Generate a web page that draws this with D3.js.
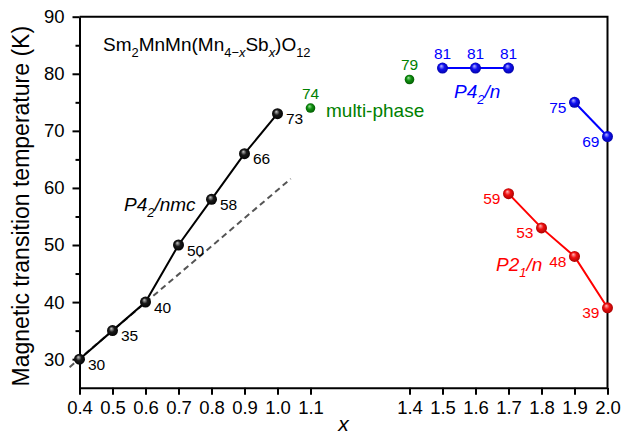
<!DOCTYPE html>
<html><head><meta charset="utf-8">
<script src="https://cdn.jsdelivr.net/npm/d3@7"></script>
<style>body{margin:0;background:#fff} text{font-family:"Liberation Sans",Arial,sans-serif}</style>
</head><body><svg id="c" width="621" height="434"></svg>
<script>
// ---- data ----
const xTicks=[0.4,0.5,0.6,0.7,0.8,0.9,1.0,1.1,1.4,1.5,1.6,1.7,1.8,1.9,2.0];
const yTicks=[30,40,50,60,70,80,90];
const yMinor=[35,45,55,65,75,85];
const blackX=[0.4,0.5,0.6,0.7,0.8,0.9,1.0];
const blackT=[30,35,40,50,58,66,73];
const greenX=[1.1,1.4];
const greenT=[74,79];
const blueAX=[1.5,1.6,1.7];
const blueAT=[81,81,81];
const blueBX=[1.9,2.0];
const blueBT=[75,69];
const redX=[1.7,1.8,1.9,2.0];
const redT=[59,53,48,39];
const fitX=[0.37,1.04];
const fitT=[28.6,61.6];

// ---- chart ----
const svg=d3.select("#c");
const x=d3.scaleLinear().domain([0.4,2.0]).range([79.5,607.5]);
const y=d3.scaleLinear().domain([25,90]).range([387.7,16.7]);
const zip=(a,b)=>a.map((v,i)=>[v,b[i]]);

const defs=svg.append("defs");
function grad(id,light,mid,dark){
  const g=defs.append("radialGradient").attr("id",id).attr("cx","50%").attr("cy","50%").attr("r","55%").attr("fx","38%").attr("fy","30%");
  g.append("stop").attr("offset","0%").attr("stop-color",light);
  g.append("stop").attr("offset","45%").attr("stop-color",mid);
  g.append("stop").attr("offset","100%").attr("stop-color",dark);
}
grad("gk","#c8c8c8","#1a1a1a","#000000");
grad("gg","#9be09b","#119111","#005500");
grad("gb","#b8b8ff","#1010f0","#0000a0");
grad("gr","#ffb8b8","#f01010","#a00000");

// axes
const xAxis=d3.axisBottom(x).tickValues(xTicks).tickFormat(d3.format(".1f")).tickSize(7).tickSizeOuter(0).tickPadding(6);
const yAxis=d3.axisLeft(y).tickValues(yTicks).tickSize(7).tickSizeOuter(0).tickPadding(8);
const gx=svg.append("g").attr("transform","translate(0,"+y(25)+")").call(xAxis);
const gy=svg.append("g").attr("transform","translate("+x(0.4)+",0)").call(yAxis);
svg.append("g").attr("transform","translate("+x(0.4)+",0)").call(d3.axisLeft(y).tickValues(yMinor).tickSize(4).tickFormat(""))
  .select(".domain").remove();
svg.selectAll(".tick line").attr("stroke","#000").attr("stroke-width",2);
svg.selectAll(".domain").attr("stroke","#000").attr("stroke-width",2);
[gx,gy].forEach(g=>g.selectAll(".tick text").attr("font-size",18.5).attr("fill","#000").attr("font-family","Liberation Sans, Arial, sans-serif"));
// frame top/right
svg.append("path").attr("d","M"+x(0.4)+","+y(90)+"H"+x(2.0)+"V"+y(25)).attr("fill","none").attr("stroke","#000").attr("stroke-width",2);

// titles
svg.append("text").attr("transform","translate(29,"+((y(25)+y(90))/2+4)+") rotate(-90)").attr("text-anchor","middle")
  .attr("font-size",23).text("Magnetic transition temperature (K)");
svg.append("text").attr("x",(x(0.4)+x(2.0))/2).attr("y",431).attr("text-anchor","middle").attr("font-size",21).attr("font-style","italic").text("x");

function rich(sel,parts,size){
  let shift=0;
  parts.forEach(p=>{
    const t=sel.append("tspan").text(p.t);
    const target=p.sub?0.3*size:0;
    if(target!==shift){t.attr("dy",target-shift);shift=target;}
    if(p.sub)t.attr("font-size",size*0.68);
    if(p.it)t.attr("font-style","italic");
  });
  return sel;
}
// compound label
rich(svg.append("text").attr("x",103).attr("y",51).attr("font-size",19),
 [{t:"Sm"},{t:"2",sub:1},{t:"MnMn(Mn"},{t:"4\u2212",sub:1},{t:"x",sub:1,it:1},{t:"Sb"},{t:"x",sub:1,it:1},{t:")O"},{t:"12",sub:1}],19);

// dashed fit line
const line=d3.line().x(d=>x(d[0])).y(d=>y(d[1]));
svg.append("path").attr("d",line(zip(fitX,fitT))).attr("fill","none").attr("stroke","#555").attr("stroke-width",2).attr("stroke-dasharray","6,4");

// series lines
function series(X,T,color,connect){
  if(connect) svg.append("path").attr("d",line(zip(X,T))).attr("fill","none").attr("stroke",color).attr("stroke-width",2);
}
series(blackX,blackT,"#000",true);
series(blueAX,blueAT,"#0000ff",true);
series(blueBX,blueBT,"#0000ff",true);
series(redX,redT,"#ff0000",true);

function dots(X,T,g,r){
  svg.append("g").selectAll("circle").data(zip(X,T)).join("circle")
   .attr("cx",d=>x(d[0])).attr("cy",d=>y(d[1])).attr("r",r).attr("fill","url(#"+g+")");
}
dots(blackX,blackT,"gk",5.5);
dots(greenX,greenT,"gg",4.8);
dots(blueAX,blueAT,"gb",5.5);
dots(blueBX,blueBT,"gb",5.5);
dots(redX,redT,"gr",5.5);

// value labels
function labels(X,T,color,pos){
  svg.append("g").selectAll("text").data(zip(X,T)).join("text")
   .attr("font-size",15.5).attr("fill",color)
   .attr("x",d=>x(d[0])+(pos==="right"?8.5:pos==="left"?-8:0))
   .attr("y",d=>y(d[1])+(pos==="above"?-9:10.5))
   .attr("text-anchor",pos==="right"?"start":pos==="left"?"end":"middle")
   .text(d=>d[1]);
}
labels(blackX,blackT,"#000","right");
labels(greenX,greenT,"#008000","above");
labels(blueAX,blueAT,"#0000ff","above");
labels(blueBX,blueBT,"#0000ff","left");
labels(redX,redT,"#ff0000","left");

// phase annotations
rich(svg.append("text").attr("x",124).attr("y",211).attr("font-size",19).attr("font-style","italic"),
  [{t:"P4"},{t:"2",sub:1},{t:"/nmc"}],19);
svg.append("text").attr("x",326).attr("y",116.5).attr("font-size",19).attr("fill","#008000").text("multi-phase");
rich(svg.append("text").attr("x",454).attr("y",98).attr("font-size",19).attr("font-style","italic").attr("fill","#0000ff"),
  [{t:"P4"},{t:"2",sub:1},{t:"/"},{t:"n"}],19);
rich(svg.append("text").attr("x",496).attr("y",271).attr("font-size",19).attr("font-style","italic").attr("fill","#ff0000"),
  [{t:"P2"},{t:"1",sub:1},{t:"/"},{t:"n"}],19);
</script></body></html>
